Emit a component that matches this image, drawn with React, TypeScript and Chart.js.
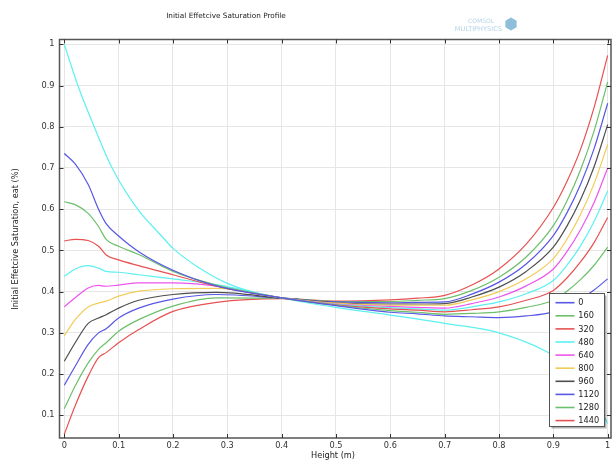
import { useEffect, useRef } from "react";
import { Chart, registerables } from "chart.js";
Chart.register(...registerables);

const TITLE = "Initial Effetcive Saturation Profile";
const X_TITLE = "Height (m)";
const Y_TITLE = "Initial Effetcive Saturation, eat (%)";

const X_TICKS = [0, 0.1, 0.2, 0.3, 0.4, 0.5, 0.6, 0.7, 0.8, 0.9, 1];
const Y_TICKS = [0.1, 0.2, 0.3, 0.4, 0.5, 0.6, 0.7, 0.8, 0.9, 1];

const HEIGHTS = [0, 0.02, 0.044, 0.063, 0.077, 0.1, 0.137, 0.2, 0.28, 0.4, 0.5, 0.6, 0.65, 0.7, 0.75, 0.8, 0.85, 0.9, 0.925, 0.95, 0.975, 1.0];

const SERIES_LABELS = ["0", "160", "320", "480", "640", "800", "960", "1120", "1280", "1440"];
const SERIES_COLORS = ["#5858e4", "#6cc06c", "#e65252", "#5ef0f0", "#ee55ee", "#f2cc58", "#4e4e4e", "#5858e4", "#6cc06c", "#e65252"];

const S0 = [0.735, 0.71, 0.66, 0.6, 0.565, 0.535, 0.497, 0.452, 0.414, 0.385, 0.366, 0.35, 0.346, 0.341, 0.339, 0.337, 0.341, 0.351, 0.365, 0.382, 0.404, 0.431];
const S160 = [0.618, 0.611, 0.59, 0.558, 0.527, 0.51, 0.49, 0.449, 0.416, 0.385, 0.367, 0.354, 0.35, 0.345, 0.347, 0.351, 0.362, 0.379, 0.401, 0.429, 0.464, 0.508];
const S320 = [0.523, 0.527, 0.524, 0.51, 0.489, 0.477, 0.463, 0.441, 0.413, 0.385, 0.368, 0.358, 0.355, 0.351, 0.356, 0.363, 0.379, 0.403, 0.433, 0.472, 0.519, 0.58];
const S480 = [0.437, 0.455, 0.463, 0.457, 0.449, 0.447, 0.441, 0.431, 0.417, 0.385, 0.369, 0.361, 0.358, 0.355, 0.363, 0.375, 0.395, 0.427, 0.464, 0.511, 0.57, 0.644];
const S640 = [0.363, 0.385, 0.409, 0.415, 0.413, 0.416, 0.421, 0.421, 0.413, 0.385, 0.37, 0.364, 0.362, 0.36, 0.371, 0.387, 0.414, 0.455, 0.497, 0.55, 0.616, 0.7];
const S800 = [0.293, 0.332, 0.363, 0.372, 0.377, 0.389, 0.401, 0.407, 0.408, 0.385, 0.372, 0.367, 0.367, 0.367, 0.38, 0.4, 0.431, 0.48, 0.527, 0.587, 0.662, 0.757];
const S960 = [0.231, 0.276, 0.323, 0.336, 0.344, 0.36, 0.379, 0.393, 0.398, 0.384, 0.373, 0.37, 0.37, 0.371, 0.387, 0.411, 0.449, 0.508, 0.559, 0.623, 0.703, 0.805];
const S1120 = [0.173, 0.219, 0.272, 0.3, 0.31, 0.336, 0.36, 0.382, 0.393, 0.384, 0.375, 0.373, 0.374, 0.375, 0.394, 0.423, 0.467, 0.536, 0.591, 0.66, 0.747, 0.857];
const S1280 = [0.116, 0.171, 0.227, 0.26, 0.276, 0.304, 0.332, 0.365, 0.385, 0.384, 0.376, 0.376, 0.379, 0.383, 0.403, 0.435, 0.484, 0.56, 0.62, 0.695, 0.79, 0.909];
const S1440 = [0.054, 0.123, 0.195, 0.24, 0.252, 0.276, 0.308, 0.352, 0.374, 0.383, 0.377, 0.38, 0.384, 0.391, 0.416, 0.455, 0.515, 0.604, 0.667, 0.745, 0.847, 0.973];
const SERIES = [S0, S160, S320, S480, S640, S800, S960, S1120, S1280, S1440];

const PROFILE_HEIGHTS = [0, 0.025, 0.055, 0.088, 0.135, 0.179, 0.2, 0.25, 0.3, 0.35, 0.4, 0.5, 0.6, 0.7, 0.8, 0.888, 0.93, 0.96, 0.98, 1.0];
const PROFILE_VALUES = [1.0, 0.9, 0.8, 0.7, 0.6, 0.535, 0.505, 0.456, 0.42, 0.398, 0.384, 0.362, 0.343, 0.323, 0.3, 0.254, 0.215, 0.17, 0.13, 0.08];
const PROFILE_COLOR = "#5ef0f0";

const FONT = "'DejaVu Sans', sans-serif";
const fmt = (v: number | string) => String(+Number(v).toFixed(1));

const decorPlugin = {
  id: "decor",
  afterDraw(chart: any) {
    const { ctx, chartArea: a } = chart;
    const xs = chart.scales.x;
    const ys = chart.scales.y;
    ctx.save();
    // frame
    ctx.strokeStyle = "#555";
    ctx.lineWidth = 1.5;
    ctx.strokeRect(a.left, a.top, a.right - a.left, a.bottom - a.top);
    // inner ticks
    ctx.strokeStyle = "#333";
    ctx.lineWidth = 1;
    ctx.beginPath();
    X_TICKS.forEach((v) => {
      const px = Math.round(xs.getPixelForValue(v)) + 0.5;
      ctx.moveTo(px, a.top);
      ctx.lineTo(px, a.top + 4);
      ctx.moveTo(px, a.bottom);
      ctx.lineTo(px, a.bottom - 4);
    });
    Y_TICKS.forEach((v) => {
      const py = Math.round(ys.getPixelForValue(v)) + 0.5;
      ctx.moveTo(a.left, py);
      ctx.lineTo(a.left + 4, py);
      ctx.moveTo(a.right, py);
      ctx.lineTo(a.right - 4, py);
    });
    ctx.stroke();

    // titles
    ctx.fillStyle = "#222";
    ctx.textAlign = "center";
    ctx.textBaseline = "middle";
    ctx.font = `7.3px ${FONT}`;
    ctx.fillText(TITLE, 226, 16);
    ctx.font = `8.2px ${FONT}`;
    ctx.fillText(X_TITLE, 333, 456);
    ctx.save();
    ctx.translate(16, 239);
    ctx.rotate(-Math.PI / 2);
    ctx.fillText(Y_TITLE, 0, 0);
    ctx.restore();

    // logo
    ctx.fillStyle = "#b6d4e8";
    ctx.textAlign = "right";
    ctx.font = `6px ${FONT}`;
    ctx.fillText("COMSOL", 494, 21);
    ctx.font = `6.6px ${FONT}`;
    ctx.fillText("MULTIPHYSICS", 502, 29);
    ctx.fillStyle = "#8fbedb";
    ctx.beginPath();
    const cx = 511, cy = 24, r = 6.5;
    for (let k = 0; k < 6; k++) {
      const ang = Math.PI / 6 + (k * Math.PI) / 3;
      const px = cx + r * Math.cos(ang);
      const py = cy + r * Math.sin(ang);
      if (k === 0) ctx.moveTo(px, py);
      else ctx.lineTo(px, py);
    }
    ctx.closePath();
    ctx.fill();

    // legend
    const bx = 549.5, by = 293.5, bw = 55, bh = 133;
    ctx.fillStyle = "rgba(0,0,0,0.3)";
    ctx.fillRect(bx + 2, by + 2, bw, bh);
    ctx.fillStyle = "#fff";
    ctx.fillRect(bx, by, bw, bh);
    ctx.strokeStyle = "#555";
    ctx.lineWidth = 1;
    ctx.strokeRect(bx, by, bw, bh);
    ctx.textAlign = "left";
    ctx.font = `8.2px ${FONT}`;
    SERIES_LABELS.forEach((lab, i) => {
      const y = 302.7 + i * 13.1;
      ctx.strokeStyle = SERIES_COLORS[i];
      ctx.lineWidth = 1.6;
      ctx.beginPath();
      ctx.moveTo(555.5, y);
      ctx.lineTo(574.5, y);
      ctx.stroke();
      ctx.fillStyle = "#222";
      ctx.fillText(lab, 578.3, y + 0.5);
    });
    ctx.restore();
  },
};

export default function App() {
  const ref = useRef<HTMLCanvasElement>(null);
  useEffect(() => {
    if (!ref.current) return;
    const datasets: any[] = SERIES.map((vals, i) => ({
      label: SERIES_LABELS[i],
      data: HEIGHTS.map((h, j) => ({ x: h, y: vals[j] })),
      borderColor: SERIES_COLORS[i],
      borderWidth: 1.2,
      pointRadius: 0,
      fill: false,
      cubicInterpolationMode: "monotone",
    }));
    datasets.push({
      label: "profile",
      data: PROFILE_HEIGHTS.map((h, j) => ({ x: h, y: PROFILE_VALUES[j] })),
      borderColor: PROFILE_COLOR,
      borderWidth: 1.2,
      pointRadius: 0,
      fill: false,
      cubicInterpolationMode: "monotone",
    });
    const tickFont = { family: FONT, size: 8.2 };
    const chart = new Chart(ref.current, {
      type: "line",
      data: { datasets },
      options: {
        animation: false,
        responsive: false,
        devicePixelRatio: 1,
        layout: { padding: { left: 0, top: 39.5, right: 5, bottom: 0 } },
        plugins: { legend: { display: false }, title: { display: false }, tooltip: { enabled: false } },
        scales: {
          x: {
            type: "linear",
            min: -0.00883,
            max: 1.0061,
            afterBuildTicks: (s: any) => {
              s.ticks = X_TICKS.map((v) => ({ value: v }));
            },
            afterFit: (s: any) => {
              s.height = 26;
            },
            ticks: { callback: (v: any) => fmt(v), font: tickFont, color: "#333", padding: 3, maxRotation: 0, autoSkip: false },
            grid: { color: "#e6e6e6", lineWidth: 1, drawTicks: false },
            border: { display: false },
          },
          y: {
            type: "linear",
            min: 0.0449,
            max: 1.01165,
            afterBuildTicks: (s: any) => {
              s.ticks = Y_TICKS.map((v) => ({ value: v }));
            },
            afterFit: (s: any) => {
              s.width = 59.5;
            },
            ticks: { callback: (v: any) => fmt(v), font: tickFont, color: "#333", padding: 5, autoSkip: false },
            grid: { color: "#e6e6e6", lineWidth: 1, drawTicks: false },
            border: { display: false },
          },
        },
      },
      plugins: [decorPlugin],
    } as any);
    return () => chart.destroy();
  }, []);
  return (
    <div style={{ position: "fixed", left: 0, top: 0, width: 616, height: 464, background: "#fff" }}>
      <canvas ref={ref} width={616} height={464} style={{ width: 616, height: 464, display: "block" }} />
    </div>
  );
}
